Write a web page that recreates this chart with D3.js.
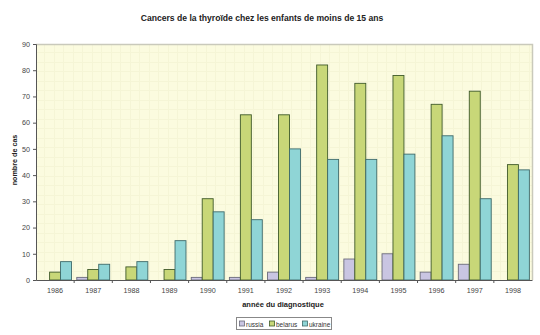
<!DOCTYPE html>
<html><head><meta charset="utf-8">
<script src="https://cdn.jsdelivr.net/npm/d3@7"></script>
<style>
html,body{margin:0;padding:0;background:#fff;}
svg{display:block;font-family:Arial,"Liberation Sans",sans-serif;}
</style></head>
<body><svg id="c" width="540" height="335"></svg>
<script>
const years = ["1986","1987","1988","1989","1990","1991","1992","1993","1994","1995","1996","1997","1998"];
const russia  = [0, 1, 0, 0, 1, 1, 3, 1, 8, 10, 3, 6, 0];
const belarus = [3, 4, 5, 4, 31, 63, 63, 82, 75, 78, 67, 72, 44];
const ukraine = [7, 6, 7, 15, 26, 23, 50, 46, 46, 48, 55, 31, 42];
const seriesNames = ["russia", "belarus", "ukraine"];
const yTicks = [0, 10, 20, 30, 40, 50, 60, 70, 80, 90];

const series = [
  {name: seriesNames[0], values: russia,  fill: "#c9c5e2", stroke: "#6a6a7a"},
  {name: seriesNames[1], values: belarus, fill: "#c8d778", stroke: "#3f5a2a"},
  {name: seriesNames[2], values: ukraine, fill: "#8fd5d6", stroke: "#3f6a6a"}
];

const svg = d3.select("#c");
const m = {left: 36, right: 532, top: 44, bottom: 280};

const x = d3.scaleBand().domain(years).range([m.left, m.right]).paddingInner(0).paddingOuter(0);
const y = d3.scaleLinear().domain([0, 90]).range([m.bottom, m.top]);
const xs = d3.scaleBand().domain(seriesNames).range([0, x.bandwidth()]).paddingInner(0).paddingOuter(0.24);

// plot background
svg.append("rect").attr("x", m.left).attr("y", m.top)
  .attr("width", m.right - m.left).attr("height", m.bottom - m.top)
  .attr("fill", "#fbfbdf");

// faint grid pattern
const g = svg.append("g").attr("stroke", "#f5f5d6").attr("stroke-width", 1);
d3.range(m.left + 8, m.right, 9.5).forEach(v => g.append("line").attr("x1", Math.round(v)+0.5).attr("x2", Math.round(v)+0.5).attr("y1", m.top).attr("y2", m.bottom));
d3.range(m.top + 8, m.bottom, 9.5).forEach(v => g.append("line").attr("y1", Math.round(v)+0.5).attr("y2", Math.round(v)+0.5).attr("x1", m.left).attr("x2", m.right));

// top and right frame
svg.append("path").attr("d", `M${m.left},${m.top+0.5}H${m.right+0.5}V${m.bottom}`)
  .attr("fill", "none").attr("stroke", "#c9c9bb").attr("stroke-width", 1.5);

// bars
series.forEach(s => {
  svg.append("g").selectAll("rect").data(s.values).join("rect")
    .attr("x", (d, i) => x(years[i]) + xs(s.name))
    .attr("y", d => y(d))
    .attr("width", xs.bandwidth())
    .attr("height", d => y(0) - y(d))
    .attr("fill", s.fill)
    .attr("stroke", s.stroke)
    .attr("stroke-width", 0.9)
    .attr("display", d => d > 0 ? null : "none");
});

// axes
const yAxis = d3.axisLeft(y).tickValues(yTicks).tickSize(3).tickPadding(3);
const ya = svg.append("g").attr("transform", `translate(${m.left},0)`).call(yAxis);
ya.select(".domain").attr("stroke", "#555");
ya.selectAll(".tick line").attr("stroke", "#555");
ya.selectAll("text").attr("font-size", 7.2).attr("fill", "#444");

const xAxis = d3.axisBottom(x).tickSize(0).tickPadding(8);
const xa = svg.append("g").attr("transform", `translate(0,${m.bottom})`).call(xAxis);
xa.select(".domain").attr("stroke", "#555");
xa.selectAll("text").attr("font-size", 7.2).attr("fill", "#444");
// tick marks at band boundaries
xa.append("g").selectAll("line").data(years.slice(1)).join("line")
  .attr("x1", d => x(d)).attr("x2", d => x(d)).attr("y1", 0).attr("y2", 3)
  .attr("stroke", "#555");

// titles
svg.append("text").attr("x", 262).attr("y", 21).attr("text-anchor", "middle")
  .attr("font-size", 8.6).attr("font-weight", "bold").attr("fill", "#222")
  .text("Cancers de la thyroïde chez les enfants de moins de 15 ans");
svg.append("text").attr("x", 283).attr("y", 307).attr("text-anchor", "middle")
  .attr("font-size", 7.5).attr("font-weight", "bold").attr("fill", "#222")
  .text("année du diagnostique");
svg.append("text").attr("transform", "translate(17,160) rotate(-90)").attr("text-anchor", "middle")
  .attr("font-size", 7.2).attr("font-weight", "bold").attr("fill", "#222")
  .text("nombre de cas");

// legend
const lg = svg.append("g");
lg.append("rect").attr("x", 236.5).attr("y", 317.5).attr("width", 95).attr("height", 12)
  .attr("fill", "#fff").attr("stroke", "#888");
let lx = 239.5;
const widths = [30, 33, 29];
series.forEach((s, i) => {
  lg.append("rect").attr("x", lx).attr("y", 321).attr("width", 5).attr("height", 5)
    .attr("fill", s.fill).attr("stroke", s.stroke).attr("stroke-width", 0.8);
  lg.append("text").attr("x", lx + 6.5).attr("y", 326.5).attr("font-size", 6.5).attr("fill", "#333").text(s.name);
  lx += widths[i];
});
</script></body></html>
